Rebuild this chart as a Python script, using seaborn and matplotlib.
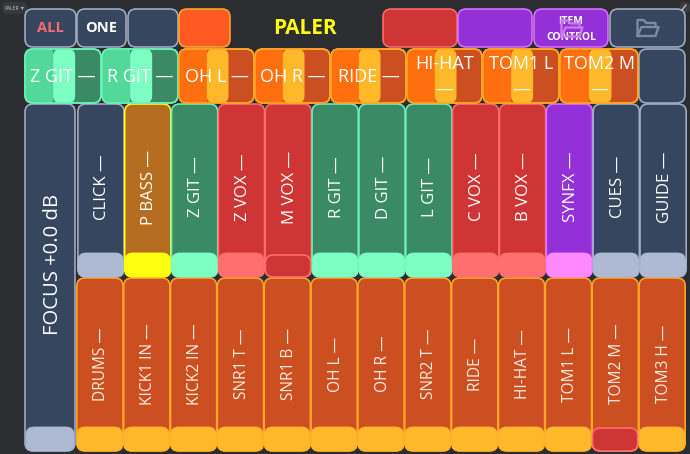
import matplotlib
matplotlib.use('Agg')
import matplotlib.pyplot as plt
import pandas as pd
import seaborn as sns
from matplotlib.patches import FancyBboxPatch, Rectangle

W, H = 690, 454
BG = '#2b2d31'

# colour sets: fill, border, footer
NAVY = ('#36465f', '#a3aec8', '#aebad4')
GREEN = ('#3a8a66', '#6ef0b8', '#7dffc4')
RED = ('#cf3535', '#ff6b6b', '#ff6f6f')
PURPLE = ('#9430d8', '#e070ff', '#ff88ff')
BROWN = ('#b56d22', '#ffff10', '#ffff10')
ORANGE = ('#cc4f22', '#ffa726', '#ffb829')

upper_names = ['CLICK', 'P BASS', 'Z GIT', 'Z VOX', 'M VOX', 'R GIT', 'D GIT',
               'L GIT', 'C VOX', 'B VOX', 'SYNFX', 'CUES', 'GUIDE']
upper_sets = [NAVY, BROWN, GREEN, RED, RED, GREEN, GREEN, GREEN, RED, RED, PURPLE, NAVY, NAVY]
upper_muted = ['M VOX']

lower_names = ['DRUMS', 'KICK1 IN', 'KICK2 IN', 'SNR1 T', 'SNR1 B', 'OH L', 'OH R',
               'SNR2 T', 'RIDE', 'HI-HAT', 'TOM1 L', 'TOM2 M', 'TOM3 H']
lower_muted = ['TOM2 M']

send_names = ['Z GIT', 'R GIT', 'OH L', 'OH R', 'RIDE', 'HI-HAT', 'TOM1 L', 'TOM2 M']
send_sets = [GREEN, GREEN, ORANGE, ORANGE, ORANGE, ORANGE, ORANGE, ORANGE]
send_left = ['#52d898', '#52d898', '#ff6f10', '#ff6f10', '#ff6f10', '#ff6f10', '#ff6f10', '#ff6f10']
send_edges = [25, 102, 179, 255, 331, 407, 483, 560, 639]

sns.set_theme(style='dark', rc={'figure.facecolor': BG, 'axes.facecolor': BG})
plt.rcParams['font.family'] = ['Open Sans', 'DejaVu Sans']

fig = plt.figure(figsize=(W / 100, H / 100), dpi=100)
ax = fig.add_axes([0, 0, 1, 1])

RADIUS = 8
LW = 1.15


def round_bars(ax, bars, edges):
    # seaborn draws square bars, swap each one for a rounded box
    for bar, edge in zip(bars, edges):
        box = FancyBboxPatch((bar.get_x() + RADIUS, bar.get_y() + RADIUS),
                             bar.get_width() - 2 * RADIUS, bar.get_height() - 2 * RADIUS,
                             boxstyle=f'round,pad={RADIUS},rounding_size={RADIUS}',
                             fc=bar.get_facecolor(), ec=edge, lw=LW, zorder=bar.get_zorder())
        ax.add_patch(box)
        bar.remove()


def column_bars(names, colors, edges, left, pitch, top, bottom, zorder=2):
    # one bar per name, placed on the pixel axis with the native scale
    n_before = len(ax.patches)
    df = pd.DataFrame({'x': [left + pitch * (i + 0.5) for i in range(len(names))],
                       'h': [bottom - top] * len(names), 'name': names})
    sns.barplot(data=df, x='x', y='h', hue='name', palette=dict(zip(names, colors)), dodge=False,
                native_scale=True, width=0.985, bottom=top, legend=False, saturation=1,
                ax=ax, zorder=zorder)
    round_bars(ax, list(ax.patches[n_before:]), edges)


def button(x0, x1, y0, y1, fill, edge, radius=RADIUS, lw=LW, zorder=3):
    box = FancyBboxPatch((x0 + radius, y0 + radius), x1 - x0 - 2 * radius, y1 - y0 - 2 * radius,
                         boxstyle=f'round,pad={radius},rounding_size={radius}',
                         fc=fill, ec=edge, lw=lw, zorder=zorder)
    ax.add_patch(box)
    return box


# upper row of faders
PITCH = 46.85
UP_LEFT = 77.5
LOW_LEFT = 76.5
column_bars(upper_names, [s[0] for s in upper_sets], [s[1] for s in upper_sets], UP_LEFT, PITCH, 104, 277)
for i, (name, s) in enumerate(zip(upper_names, upper_sets)):
    x = UP_LEFT + PITCH * i
    if name in upper_muted:
        button(x + 0.5, x + PITCH - 1, 255, 277, s[0], s[2], zorder=4)
    else:
        button(x + 0.5, x + PITCH - 1, 253, 277, s[2], s[2], zorder=4, lw=0.6)
    ax.text(x + PITCH / 2 + 1.5, 187, f'{name} —', rotation=90, color='white', fontsize=12.1,
            ha='center', va='center', zorder=6)

# lower row of faders
column_bars(lower_names, [ORANGE[0]] * 13, [ORANGE[1]] * 13, LOW_LEFT, PITCH, 278, 451)
for i, name in enumerate(lower_names):
    x = LOW_LEFT + PITCH * i
    if name in lower_muted:
        button(x + 0.5, x + PITCH - 1, 428, 451, RED[0], RED[2], zorder=4)
    else:
        button(x + 0.5, x + PITCH - 1, 427, 451, ORANGE[2], ORANGE[2], zorder=4, lw=0.6)
    ax.text(x + PITCH / 2 + 1.5, 364, f'{name} —', rotation=90, color='#fbeee4', fontsize=11.2,
            ha='center', va='center', zorder=6)

# focus strip on the left
button(25, 75, 104, 451, NAVY[0], NAVY[1])
button(26, 74, 427, 451, NAVY[2], NAVY[2], zorder=4, lw=0.6)
ax.text(53, 264, 'FOCUS +0.0 dB', rotation=90, color='white', fontsize=14.6,
        ha='center', va='center', zorder=6)

# send row, three colour bands clipped to a rounded button
for i, name in enumerate(send_names):
    x0, x1 = send_edges[i], send_edges[i + 1] - 1
    fill, edge, foot = send_sets[i]
    frame = button(x0, x1, 49, 103, fill, edge)
    w = x1 - x0
    left_band = Rectangle((x0, 49), w * 0.37, 54, fc=send_left[i], ec='none', zorder=4)
    mid_band = FancyBboxPatch((x0 + w * 0.37 + 5, 49 + 5), w * 0.29 - 10, 44,
                              boxstyle='round,pad=5,rounding_size=7', fc=foot, ec='none', zorder=4.5)
    for band in (left_band, mid_band):
        ax.add_patch(band)
        band.set_clip_path(frame)
    button(x0, x1, 49, 103, 'none', edge, zorder=5)
    label = f'{name} —' if name not in ['HI-HAT', 'TOM1 L', 'TOM2 M'] else f'{name}\n—'
    ax.text((x0 + x1) / 2, 77, label, color='white', fontsize=13, ha='center', va='center',
            zorder=6, linespacing=1.6)
button(639, 685, 49, 103, NAVY[0], NAVY[1])

# top row
button(25, 76, 9, 47, NAVY[0], NAVY[1])
button(77, 126, 9, 47, NAVY[0], NAVY[1])
button(128, 178, 9, 47, NAVY[0], NAVY[1])
button(179, 230, 9, 47, '#ff5a22', ORANGE[1])
button(383, 457, 9, 47, RED[0], RED[1])
button(458, 532, 9, 47, PURPLE[0], PURPLE[1])
button(534, 608, 9, 47, PURPLE[0], PURPLE[1])
button(610, 685, 9, 47, NAVY[0], NAVY[1])
ax.text(50.5, 28.5, 'ALL', color='#ff6b6b', fontsize=10.5, fontweight='bold', ha='center', va='center', zorder=6)
ax.text(101.5, 28.5, 'ONE', color='white', fontsize=10.5, fontweight='bold', ha='center', va='center', zorder=6)
ax.text(305, 28, 'PALER', color='#ffff10', fontsize=15, fontweight='bold', ha='center', va='center', zorder=6)

# clipped two line label on the control button
for text, y in [('ITEM', 22), ('CONTROL', 37.5)]:
    t = ax.text(571, y, text, color='white', fontsize=7.5, fontweight='bold', ha='center', va='center', zorder=6)
    t.set_clip_path(Rectangle((534, 19), 74, 18, transform=ax.transData))


def folder(cx, cy, color):
    # open folder icon
    xs = [cx - 10, cx - 10, cx - 4, cx - 1, cx + 8, cx + 8]
    ys = [cy + 8, cy - 8, cy - 8, cy - 5, cy - 5, cy - 1]
    ax.plot(xs, ys, color=color, lw=1.7, zorder=7, solid_joinstyle='round')
    xs = [cx - 10, cx - 6, cx + 11, cx + 8, cx - 10]
    ys = [cy + 8, cy - 1, cy - 1, cy + 8, cy + 8]
    ax.plot(xs, ys, color=color, lw=1.7, zorder=7, solid_joinstyle='round')


folder(647.5, 28, '#7f8a9e')
folder(571.5, 28.5, '#c77ae8')

# small dropdown pill top left and corner icon top right
button(2, 27, 2, 14, '#36393e', 'none', radius=6, lw=0, zorder=2.5)
ax.text(11.5, 8.5, 'PALER', color='#c8c8c8', fontsize=3.6, ha='center', va='center', zorder=6)
ax.text(22, 8, '▾', color='#c8c8c8', fontsize=4, ha='center', va='center', zorder=6)
button(680, 690, 2, 13, '#3a3d42', 'none', radius=5, lw=0, zorder=2.5)
ax.plot([682, 686], [10, 5], color='#c8c8c8', lw=0.9, zorder=6)

ax.set_xlim(0, W)
ax.set_ylim(H, 0)
ax.axis('off')
fig.savefig('out.png', dpi=100, facecolor=BG)
